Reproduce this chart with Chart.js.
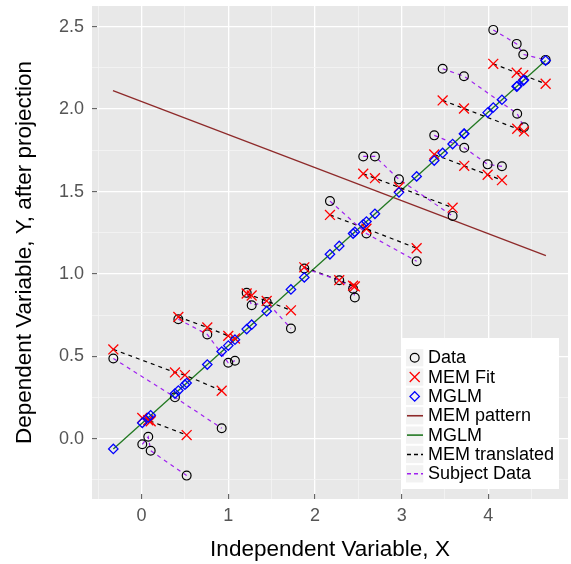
<!DOCTYPE html>
<html>
<head>
<meta charset="utf-8">
<title>MEM vs MGLM</title>
<script src="https://cdn.jsdelivr.net/npm/chart.js@4.4.1/dist/chart.umd.min.js"></script>
<style>
  html, body { margin: 0; padding: 0; background: #fff; }
  canvas { display: block; }
</style>
</head>
<body>
<canvas id="chart" width="571" height="564"></canvas>
<script>
const FONT = '"Liberation Sans", Arial, Helvetica, sans-serif';

// axis ticks
const xMajor = [0, 1, 2, 3, 4];
const xMinor = [-0.5, 0.5, 1.5, 2.5, 3.5, 4.5];
const yMajor = [0, 0.5, 1, 1.5, 2, 2.5];
const yMinor = [-0.25, 0.25, 0.75, 1.25, 1.75, 2.25];

// one row per subject: X positions, observed Y, MEM fit, MGLM fit
const subjectX = [
  [-0.326, 0.385, 0.50, 0.924],
  [0.008, 0.077, 0.105, 0.52],
  [0.424, 0.758, 1.0, 1.077],
  [1.212, 1.27, 1.443, 1.723],
  [1.877, 2.28, 2.44, 2.46],
  [2.173, 2.594, 3.173],
  [2.557, 2.692, 2.969, 3.588],
  [3.376, 3.722, 3.992, 4.157],
  [3.473, 3.719, 4.333, 4.411],
  [4.057, 4.327, 4.403, 4.661]
];
const subjectY = [
  [0.487, 0.251, null, 0.063],
  [-0.034, 0.012, -0.073, -0.224],
  [0.725, 0.633, 0.461, 0.473],
  [0.885, 0.81, 0.83, 0.669],
  [1.033, 0.962, 0.91, 0.857],
  [1.442, 1.245, 1.077],
  [1.713, 1.713, 1.574, 1.352],
  [1.841, 1.766, 1.665, 1.653],
  [2.245, 2.2, 1.972, 1.89],
  [2.481, 2.396, 2.332, 2.299]
];
const memFitY = [
  [0.542, 0.402, 0.386, 0.291],
  [0.126, 0.112, 0.106, 0.022],
  [0.739, 0.675, 0.624, 0.608],
  [0.881, 0.869, 0.836, 0.779],
  [1.04, 0.962, 0.928, 0.924],
  [1.358, 1.274, 1.156],
  [1.608, 1.581, 1.526, 1.402],
  [1.725, 1.656, 1.602, 1.569],
  [2.053, 2.004, 1.881, 1.865],
  [2.275, 2.221, 2.206, 2.154]
];
const mglmY = [
  [-0.062, 0.274, 0.328, 0.529],
  [0.096, 0.128, 0.142, 0.338],
  [0.292, 0.45, 0.565, 0.601],
  [0.665, 0.692, 0.774, 0.906],
  [0.979, 1.17, 1.245, 1.255],
  [1.119, 1.318, 1.592],
  [1.301, 1.365, 1.495, 1.788],
  [1.688, 1.851, 1.979, 2.057],
  [1.734, 1.85, 2.14, 2.177],
  [2.01, 2.137, 2.173, 2.295]
];

// population lines, end points
const memPatternX = [-0.33, 4.664];
const memPatternY = [2.113, 1.111];
const mglmLineX = [-0.326, 4.661];
const mglmLineY = [-0.062, 2.295];

const legendLabels = ["Data", "MEM Fit", "MGLM", "MEM pattern", "MGLM", "MEM translated", "Subject Data"];

const COLORS = {
  data: "#000000",
  fit: "#FF0000",
  mglm: "#0000FF",
  pattern: "#8E2A2A",
  mglmLine: "#217821",
  translated: "#000000",
  subject: "#A020F0"
};

// helpers
const toPoints = (xs, ys) =>
  xs.map((x, i) => ({ x: x, y: ys[i] })).filter((p) => p.y !== null);
const allPoints = (rows) => subjectX.flatMap((xs, s) => toPoints(xs, rows[s]));

const datasets = [];

datasets.push({
  label: "MGLM",
  data: allPoints(mglmY),
  pointStyle: "rectRot",
  pointRadius: 4.7,
  borderColor: COLORS.mglm,
  backgroundColor: "rgba(0,0,0,0)",
  pointBorderWidth: 1.3,
  order: 1
});
datasets.push({
  label: "MEM Fit",
  data: allPoints(memFitY),
  pointStyle: "crossRot",
  pointRadius: 7,
  borderColor: COLORS.fit,
  backgroundColor: "rgba(0,0,0,0)",
  pointBorderWidth: 1.3,
  order: 2
});
datasets.push({
  label: "Data",
  data: allPoints(subjectY),
  pointStyle: "circle",
  pointRadius: 4.4,
  borderColor: COLORS.data,
  backgroundColor: "rgba(0,0,0,0)",
  pointBorderWidth: 1.2,
  order: 3
});

subjectX.forEach((xs, s) => {
  datasets.push({
    label: "Subject Data",
    data: toPoints(xs, subjectY[s]),
    showLine: true,
    borderColor: COLORS.subject,
    borderWidth: 1.2,
    borderDash: [4, 4],
    pointRadius: 0,
    order: 6
  });
  datasets.push({
    label: "MEM translated",
    data: toPoints(xs, memFitY[s]),
    showLine: true,
    borderColor: COLORS.translated,
    borderWidth: 1.2,
    borderDash: [4, 4],
    pointRadius: 0,
    order: 7
  });
});

datasets.push({
  label: "MGLM",
  data: toPoints(mglmLineX, mglmLineY),
  showLine: true,
  borderColor: COLORS.mglmLine,
  borderWidth: 1.3,
  pointRadius: 0,
  order: 8
});
datasets.push({
  label: "MEM pattern",
  data: toPoints(memPatternX, memPatternY),
  showLine: true,
  borderColor: COLORS.pattern,
  borderWidth: 1.3,
  pointRadius: 0,
  order: 9
});

// gray panel like ggplot
const panelPlugin = {
  id: "panel",
  beforeDraw(chart) {
    const { ctx, chartArea } = chart;
    ctx.save();
    ctx.fillStyle = "#ffffff";
    ctx.fillRect(0, 0, chart.width, chart.height);
    ctx.fillStyle = "#E8E8E8";
    ctx.fillRect(chartArea.left, chartArea.top,
      chartArea.right - chartArea.left, chartArea.bottom - chartArea.top);
    ctx.restore();
  }
};

// legend box inside the panel, bottom right
const legendPlugin = {
  id: "insideLegend",
  afterDraw(chart) {
    const ctx = chart.ctx;
    const keys = [
      { kind: "circle", color: COLORS.data },
      { kind: "cross", color: COLORS.fit },
      { kind: "diamond", color: COLORS.mglm },
      { kind: "line", color: COLORS.pattern },
      { kind: "line", color: COLORS.mglmLine },
      { kind: "dash", color: COLORS.translated },
      { kind: "dash", color: COLORS.subject }
    ];
    ctx.save();
    ctx.fillStyle = "#ffffff";
    ctx.fillRect(401.5, 338, 157.5, 151);
    legendLabels.forEach((label, i) => {
      const cy = 357.7 + i * 19.35;
      const cx = 414.7;
      ctx.fillStyle = "#F2F2F2";
      ctx.fillRect(406, cy - 8.65, 17.3, 17.3);
      const k = keys[i];
      ctx.strokeStyle = k.color;
      ctx.setLineDash([]);
      ctx.beginPath();
      if (k.kind === "circle") {
        ctx.lineWidth = 1.2;
        ctx.arc(cx, cy, 4.4, 0, Math.PI * 2);
      } else if (k.kind === "cross") {
        ctx.lineWidth = 1.3;
        ctx.moveTo(cx - 5, cy - 5); ctx.lineTo(cx + 5, cy + 5);
        ctx.moveTo(cx - 5, cy + 5); ctx.lineTo(cx + 5, cy - 5);
      } else if (k.kind === "diamond") {
        ctx.lineWidth = 1.3;
        ctx.moveTo(cx - 4.7, cy); ctx.lineTo(cx, cy - 4.7);
        ctx.lineTo(cx + 4.7, cy); ctx.lineTo(cx, cy + 4.7);
        ctx.closePath();
      } else {
        ctx.lineWidth = 1.6;
        if (k.kind === "dash") ctx.setLineDash([4, 3]);
        ctx.moveTo(407, cy); ctx.lineTo(423, cy);
      }
      ctx.stroke();
      ctx.setLineDash([]);
      ctx.fillStyle = "#000000";
      ctx.font = "18px " + FONT;
      ctx.textBaseline = "middle";
      ctx.textAlign = "left";
      ctx.fillText(label, 428, cy + 0.5);
    });
    ctx.restore();
  }
};

const isIn = (list, v) => list.some((m) => Math.abs(m - v) < 1e-9);

// fixed axis boxes so the panel lands where the reference has it
const fixBox = (w, h) => (s) => {
  if (w !== null) s.width = w;
  if (h !== null) s.height = h;
  s.paddingTop = 0;
  s.paddingBottom = 0;
  s.paddingLeft = 0;
  s.paddingRight = 0;
};

const chart = new Chart(document.getElementById("chart"), {
  type: "scatter",
  data: { datasets: datasets },
  options: {
    responsive: false,
    animation: false,
    events: [],
    layout: { autoPadding: false, padding: { top: 6, right: 3, left: 0, bottom: 0 } },
    plugins: { legend: { display: false }, tooltip: { enabled: false } },
    scales: {
      x: {
        type: "linear",
        min: -0.572,
        max: 4.919,
        afterBuildTicks: (s) => {
          s.ticks = xMinor.concat(xMajor).sort((a, b) => a - b).map((v) => ({ value: v }));
        },
        afterFit: fixBox(null, 65),
        border: { display: false },
        grid: {
          color: (c) => (isIn(xMajor, c.tick.value) ? "#FFFFFF" : "#F4F4F4"),
          lineWidth: (c) => (isIn(xMajor, c.tick.value) ? 1.3 : 0.8),
          tickColor: (c) => (isIn(xMajor, c.tick.value) ? "#4D4D4D" : "rgba(0,0,0,0)"),
          tickLength: -5,
          tickWidth: 1
        },
        ticks: {
          autoSkip: false,
          maxRotation: 0,
          padding: 11.5,
          color: "#555555",
          font: { family: FONT, size: 18 },
          callback: (v) => (isIn(xMajor, v) ? String(v) : "")
        },
        title: {
          display: true,
          text: "Independent Variable, X",
          color: "#000000",
          font: { family: FONT, size: 22.5 },
          padding: { top: 0, bottom: 1 }
        }
      },
      y: {
        type: "linear",
        min: -0.366,
        max: 2.626,
        afterBuildTicks: (s) => {
          s.ticks = yMinor.concat(yMajor).sort((a, b) => a - b).map((v) => ({ value: v }));
        },
        afterFit: fixBox(92, null),
        border: { display: false },
        grid: {
          color: (c) => (isIn(yMajor, c.tick.value) ? "#FFFFFF" : "#F4F4F4"),
          lineWidth: (c) => (isIn(yMajor, c.tick.value) ? 1.3 : 0.8),
          tickColor: (c) => (isIn(yMajor, c.tick.value) ? "#4D4D4D" : "rgba(0,0,0,0)"),
          tickLength: -5,
          tickWidth: 1
        },
        ticks: {
          autoSkip: false,
          padding: 13,
          color: "#555555",
          font: { family: FONT, size: 18 },
          callback: (v) => (isIn(yMajor, v) ? v.toFixed(1) : "")
        },
        title: {
          display: true,
          text: "Dependent Variable, Y, after projection",
          color: "#000000",
          font: { family: FONT, size: 22.5 },
          padding: { top: 11, bottom: 0 }
        }
      }
    }
  },
  plugins: [panelPlugin, legendPlugin]
});
</script>
</body>
</html>
